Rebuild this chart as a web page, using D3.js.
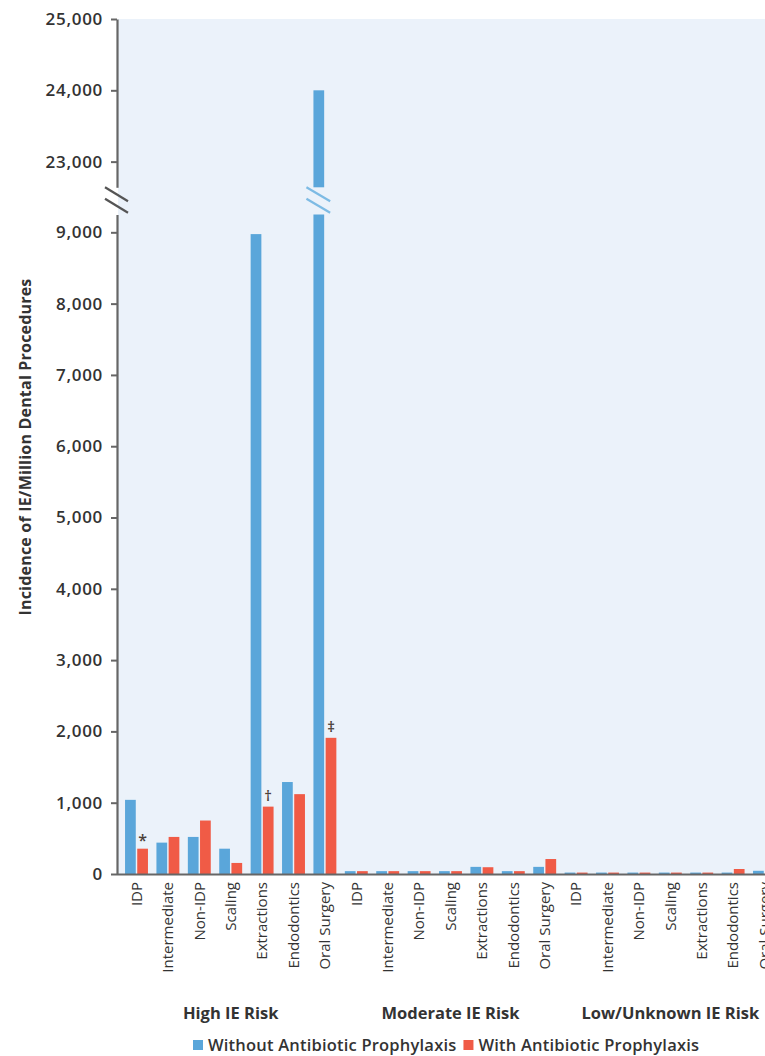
<!DOCTYPE html>
<html>
<head>
<meta charset="utf-8">
<script src="https://cdn.jsdelivr.net/npm/d3@7"></script>
<style>
  body { margin: 0; background: #fff; }
  svg text { font-family: "Open Sans", "Noto Sans", "Liberation Sans", sans-serif; fill: #333; }
</style>
</head>
<body>
<svg id="chart" width="765" height="1056"></svg>
<script>
// Incidence of infective endocarditis per million dental procedures
const riskGroups = ["High IE Risk", "Moderate IE Risk", "Low/Unknown IE Risk"];
const procedures = ["IDP", "Intermediate", "Non-IDP", "Scaling", "Extractions", "Endodontics", "Oral Surgery"];

// values listed risk group by risk group, procedures in the order above
const withoutProphylaxis = [
  1040, 440, 520, 355, 8975, 1290, 24000,
  40, 40, 40, 40, 100, 40, 100,
  20, 20, 20, 20, 20, 20, 45
];
const withProphylaxis = [
  355, 520, 750, 155, 945, 1120, 1910,
  40, 40, 40, 40, 95, 40, 210,
  20, 20, 20, 20, 20, 70, 45
];
// significance markers placed above the "with prophylaxis" bar
const markerIndex = [0, 4, 6];
const markerSymbol = ["*", "\u2020", "\u2021"];

const seriesNames = ["Without Antibiotic Prophylaxis", "With Antibiotic Prophylaxis"];
const seriesColors = ["#5AA6DA", "#F05B46"];

const upperTicks = [23000, 24000, 25000];
const lowerTicks = [0, 1000, 2000, 3000, 4000, 5000, 6000, 7000, 8000, 9000];
const lowerDomain = [0, 9250];
const upperDomain = [22640, 25000];

const svg = d3.select("#chart");

// ---- scales ----
const keys = [];
riskGroups.forEach(g => procedures.forEach(p => keys.push(g + "|" + p)));

const x0 = d3.scaleBand().domain(keys).range([120.8, 780.2])
  .paddingInner(0.27).paddingOuter(0.135);
const x1 = d3.scaleBand().domain([0, 1]).range([0, x0.bandwidth()]).paddingInner(0.12);

const yLow = d3.scaleLinear().domain(lowerDomain).range([874, 214.5]);
const yHigh = d3.scaleLinear().domain(upperDomain).range([187.3, 19]);

const plotLeft = 118, plotRight = 765;

// plot background
svg.append("rect")
  .attr("x", plotLeft).attr("y", yHigh(25000))
  .attr("width", plotRight - plotLeft).attr("height", yLow(0) - yHigh(25000))
  .attr("fill", "#EBF2FA");

// ---- bars ----
const barData = [];
keys.forEach((k, i) => {
  barData.push({ key: k, s: 0, v: withoutProphylaxis[i] });
  barData.push({ key: k, s: 1, v: withProphylaxis[i] });
});

const bars = svg.append("g");
barData.forEach(d => {
  const x = x0(d.key) + x1(d.s);
  const w = x1.bandwidth();
  const lowTop = Math.min(d.v, lowerDomain[1]);
  bars.append("rect")
    .attr("x", x).attr("width", w)
    .attr("y", yLow(lowTop)).attr("height", yLow(0) - yLow(lowTop))
    .attr("fill", seriesColors[d.s]);
  if (d.v > lowerDomain[1]) {
    // continuation of a broken bar above the axis break
    bars.append("rect")
      .attr("x", x).attr("width", w)
      .attr("y", yHigh(d.v)).attr("height", yHigh(upperDomain[0]) - yHigh(d.v))
      .attr("fill", seriesColors[d.s]);
    [0, 11.5].forEach(off => {
      bars.append("line")
        .attr("x1", x - 7).attr("y1", yHigh(upperDomain[0]) + off)
        .attr("x2", x + w + 6).attr("y2", yHigh(upperDomain[0]) + off + 14)
        .attr("stroke", "#7DBBE4").attr("stroke-width", 2.2);
    });
  }
});

// ---- markers ----
markerIndex.forEach((idx, j) => {
  const k = keys[idx];
  const cx = x0(k) + x1(1) + x1.bandwidth() / 2;
  const sym = markerSymbol[j];
  svg.append("text")
    .attr("x", cx)
    .attr("y", yLow(withProphylaxis[idx]) - (sym === "*" ? 3 : 6))
    .attr("text-anchor", "middle")
    .style("font-size", sym === "*" ? "16px" : "15px")
    .style("font-weight", 600)
    .style("fill", "#4a4038")
    .text(sym);
});

// ---- y axis (two segments) ----
const fmt = d3.format(",");
function styleAxis(g) {
  g.select(".domain").attr("stroke", "#666").attr("stroke-width", 2.2);
  g.selectAll(".tick line").attr("stroke", "#666").attr("stroke-width", 2);
  g.selectAll(".tick text")
    .style("font-size", "17px").style("font-weight", 600)
    .style("letter-spacing", "0.7px").style("fill", "#333")
    .attr("x", -14);
}
svg.append("g").attr("transform", "translate(117,0)")
  .call(d3.axisLeft(yHigh).tickValues(upperTicks).tickFormat(fmt).tickSize(6).tickSizeOuter(0))
  .call(styleAxis);
svg.append("g").attr("transform", "translate(117,0)")
  .call(d3.axisLeft(yLow).tickValues(lowerTicks).tickFormat(fmt).tickSize(6).tickSizeOuter(0))
  .call(styleAxis);

// axis break marks
[0, 11.5].forEach(off => {
  svg.append("line")
    .attr("x1", 105).attr("y1", yHigh(upperDomain[0]) + off)
    .attr("x2", 128).attr("y2", yHigh(upperDomain[0]) + off + 14)
    .attr("stroke", "#555").attr("stroke-width", 2.2);
});

// ---- x axis ----
svg.append("line")
  .attr("x1", 117).attr("x2", plotRight)
  .attr("y1", yLow(0) + 0.5).attr("y2", yLow(0) + 0.5)
  .attr("stroke", "#666").attr("stroke-width", 2.2);

const xAxis = svg.append("g").attr("transform", `translate(0,${yLow(0)})`)
  .call(d3.axisBottom(x0).tickSize(0).tickFormat(k => k.split("|")[1]));
xAxis.select(".domain").remove();
xAxis.selectAll(".tick text")
  .attr("transform", "rotate(-90)")
  .attr("x", -8).attr("y", 0).attr("dy", "0.35em")
  .attr("text-anchor", "end")
  .style("font-size", "15px").style("font-weight", 500).style("fill", "#333");

// risk group labels
riskGroups.forEach(g => {
  const first = x0(g + "|" + procedures[0]);
  const last = x0(g + "|" + procedures[procedures.length - 1]) + x0.bandwidth();
  svg.append("text")
    .attr("x", (first + last) / 2).attr("y", 1019)
    .attr("text-anchor", "middle")
    .style("font-size", "16.5px").style("font-weight", 700)
    .text(g);
});

// y axis title
svg.append("text")
  .attr("transform", "translate(31,447) rotate(-90)")
  .attr("text-anchor", "middle")
  .style("font-size", "16px").style("font-weight", 700)
  .style("letter-spacing", "0.2px")
  .text("Incidence of IE/Million Dental Procedures");

// ---- legend ----
const legend = svg.append("g").attr("transform", "translate(193,1045)");
let lx = 0;
seriesNames.forEach((name, i) => {
  const item = legend.append("g").attr("transform", `translate(${lx},0)`);
  item.append("rect").attr("x", 0).attr("y", -5).attr("width", 10).attr("height", 10)
    .attr("fill", seriesColors[i]);
  const t = item.append("text").attr("x", 15).attr("y", 0).attr("dy", "0.35em")
    .style("font-size", "16.5px").style("font-weight", 600)
    .style("letter-spacing", "0.2px")
    .text(name);
  lx += 15 + t.node().getComputedTextLength() + 7;
});
</script>
</body>
</html>
